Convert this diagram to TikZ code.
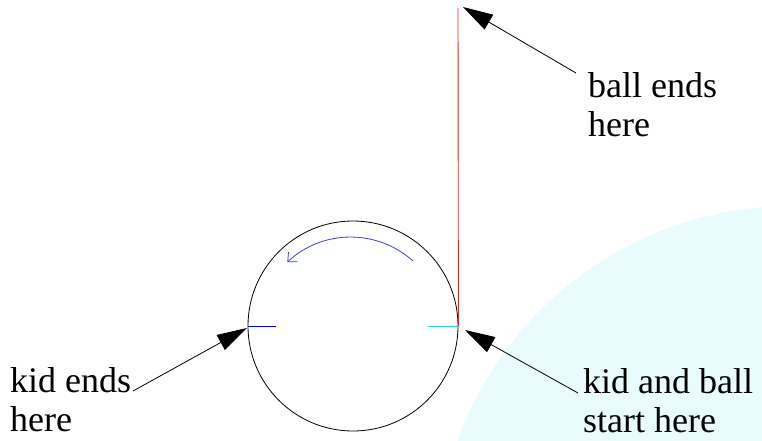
\documentclass[tikz,border=0pt]{standalone}
\usepackage{fontspec}
\setmainfont{Liberation Serif}
\newfontfamily\labelfont{Liberation Serif}
\usetikzlibrary{arrows.meta}
\definecolor{blobcyan}{RGB}{234,251,253}
\definecolor{ballred}{RGB}{200,50,30}
\definecolor{arcblue}{RGB}{60,60,230}
\definecolor{tickcyan}{RGB}{40,200,240}
\tikzset{
  label text/.style={anchor=north west, inner sep=0pt, align=left, font=\labelfont\fontsize{36}{39}\selectfont},
  pointer/.style={draw=black, line width=0.8pt, -{Triangle[length=30pt,width=17pt]}},
}
\begin{document}
\begin{tikzpicture}[x=1pt,y=-1pt]
\useasboundingbox (0,0) rectangle (762,441);
\begin{scope}
\clip (0,0) rectangle (762,441);
\fill[blobcyan] (792,562) circle[radius=356];
\end{scope}
\node[circle, draw=black, line width=0.8pt, minimum size=210pt, inner sep=0pt] (wheel) at (353,326) {};
\coordinate (top) at (458,8);
\draw[ballred, line width=0.9pt] (wheel.east) -- (top);
\draw[blue, line width=0.8pt] (wheel.west) -- ++(28,0);
\draw[tickcyan, line width=0.8pt] (wheel.east) -- ++(-30,0);
\coordinate (arcstart) at (413,261);
\draw[arcblue, line width=0.8pt, -{Straight Barb[length=7pt,width=13pt]}] (arcstart) arc[start angle=-48, end angle=-133, radius=93];
\node[label text] (ballends) at (588,72) {ball ends\\here};
\node[label text] (kidends) at (10,367) {kid ends\\here};
\node[label text] (kidball) at (583,368) {kid and ball\\start here};
\coordinate (balltail) at (576,73);
\coordinate (balltip) at (463,7);
\coordinate (kidtail) at (133,391);
\coordinate (kidtip) at (247,328);
\coordinate (starttail) at (578,393);
\coordinate (starttip) at (465,330);
\draw[pointer] (balltail) -- (balltip);
\draw[pointer] (kidtail) -- (kidtip);
\draw[pointer] (starttail) -- (starttip);
\end{tikzpicture}
\end{document}
